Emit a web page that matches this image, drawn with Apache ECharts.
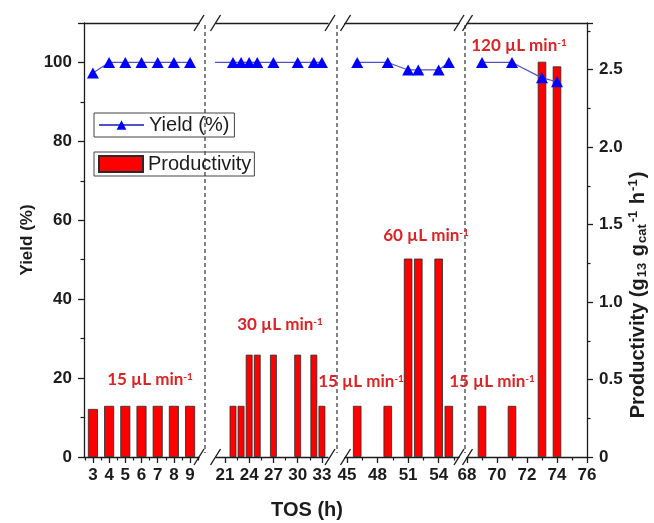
<!DOCTYPE html>
<html>
<head>
<meta charset="utf-8">
<script src="https://cdn.jsdelivr.net/npm/echarts@6/dist/echarts.min.js"></script>
<style>
  html, body { margin: 0; padding: 0; background: #fff; }
  #chart { width: 654px; height: 523px; }
</style>
</head>
<body>
<div id="chart"></div>
<script>
// time on stream (h) of each sample
const tos = [3, 4, 5, 6, 7, 8, 9, 22, 23, 24, 25, 27, 30, 32, 33, 46, 49, 51, 52, 54, 55, 69, 71, 73, 74];
// yield (%)
const yieldPct = [97.3, 100, 100, 100, 100, 100, 100, 100, 100, 100, 100, 100, 100, 100, 100,
  100, 100, 98.1, 98.1, 98.1, 100, 100, 100, 96.1, 95.1];
// productivity (g13 gcat-1 h-1)
const productivity = [0.31, 0.33, 0.33, 0.33, 0.33, 0.33, 0.33, 0.33, 0.33, 0.66, 0.66, 0.66, 0.66, 0.66, 0.33,
  0.33, 0.33, 1.28, 1.28, 1.28, 0.33, 0.33, 0.33, 2.55, 2.52];
// x axis pieces (axis breaks) and their tick labels
const segments = [[2.45, 9.55], [19.9, 33.75], [44.8, 56], [68, 76]];
const tickLabels = [[3, 4, 5, 6, 7, 8, 9], [21, 24, 27, 30, 33], [45, 48, 51, 54], [68, 70, 72, 74, 76]];
const yieldTicks = [0, 20, 40, 60, 80, 100];
const prodTicks = [0, 0.5, 1.0, 1.5, 2.0, 2.5];
// flow rate notes
const rateNotes = ['15 µL min', '30 µL min', '15 µL min', '60 µL min', '15 µL min', '120 µL min'];

const font = 'Liberation Sans';
const ink = '#1c1c1c';
const layout = [
  {left: 84, width: 115, barWidth: 10},
  {left: 216, width: 112, barWidth: 6.8},
  {left: 345, width: 114, barWidth: 8.5},
  {left: 467, width: 120, barWidth: 8.5}
];
const plotTop = 23, plotBottom = 457;

const grids = [], xAxes = [], yAxes = [], series = [];
layout.forEach((g, i) => {
  const [min, max] = segments[i];
  const majors = tickLabels[i];
  const step = majors[1] - majors[0];
  const minors = [];
  for (let v = majors[0] - step / 2; v <= max; v += step) {
    if (v >= min) minors.push(v);
  }
  grids.push({left: g.left, width: g.width, top: plotTop, bottom: 523 - plotBottom});
  xAxes.push({
    type: 'value', gridIndex: i, min: min, max: max, position: 'bottom',
    axisLine: {onZero: false, lineStyle: {color: ink, width: 1.3}},
    axisTick: {customValues: majors, length: 6, lineStyle: {color: ink, width: 1.3}},
    axisLabel: {customValues: majors, margin: 10, color: ink, fontSize: 17, fontWeight: 'bold', fontFamily: font},
    splitLine: {show: false}
  });
  xAxes.push({
    type: 'value', gridIndex: i, min: min, max: max, position: 'bottom',
    axisLine: {show: false},
    axisTick: {customValues: minors, length: 3.5, lineStyle: {color: ink, width: 1.2}},
    axisLabel: {show: false},
    splitLine: {show: false}
  });
  xAxes.push({
    type: 'value', gridIndex: i, min: min, max: max, position: 'top',
    axisLine: {onZero: false, lineStyle: {color: ink, width: 1.3}},
    axisTick: {show: false}, axisLabel: {show: false}, splitLine: {show: false}
  });
  yAxes.push({
    type: 'value', gridIndex: i, min: 0, max: 110, interval: 20, position: 'left',
    show: i === 0,
    name: i === 0 ? 'Yield (%)' : '', nameLocation: 'middle', nameRotate: 90, nameGap: 48,
    nameTextStyle: {fontSize: 17, fontWeight: 'bold', color: ink, fontFamily: font},
    axisLine: {show: true, lineStyle: {color: ink, width: 1.3}},
    axisTick: {show: true, length: 6, lineStyle: {color: ink, width: 1.3}},
    minorTick: {show: true, splitNumber: 2, length: 3.5, lineStyle: {color: ink, width: 1.2}},
    axisLabel: {customValues: yieldTicks, margin: 12, color: ink, fontSize: 17, fontWeight: 'bold', fontFamily: font},
    splitLine: {show: false}
  });
  yAxes.push({
    type: 'value', gridIndex: i, min: 0, max: 2.8, interval: 0.5, position: 'right',
    show: i === 3,
    name: i === 3 ? 'Productivity (g{sub|13} g{sub|cat}{sup|-1} h{sup|-1})' : '',
    nameLocation: 'middle', nameRotate: 90, nameGap: 40,
    nameTextStyle: {
      fontSize: 20, fontWeight: 'bold', color: ink, fontFamily: font,
      padding: [0, 110, 0, 0],
      rich: {
        sub: {fontSize: 13, fontWeight: 'bold', color: ink, fontFamily: font, verticalAlign: 'bottom', padding: [9, 1, 0, 1]},
        sup: {fontSize: 13, fontWeight: 'bold', color: ink, fontFamily: font, verticalAlign: 'top', padding: [0, 1, 9, 1]}
      }
    },
    axisLine: {show: true, lineStyle: {color: ink, width: 1.3}},
    axisTick: {show: true, length: 6, lineStyle: {color: ink, width: 1.3}},
    minorTick: {show: true, splitNumber: 2, length: 3.5, lineStyle: {color: ink, width: 1.2}},
    axisLabel: {
      customValues: prodTicks, margin: 12, color: ink, fontSize: 17, fontWeight: 'bold', fontFamily: font,
      formatter: v => (v === 0 ? '0' : v.toFixed(1))
    },
    splitLine: {show: false}
  });

  const inSeg = tos.map((t, k) => k).filter(k => tos[k] >= min && tos[k] <= max);
  series.push({
    type: 'bar', name: 'Productivity', xAxisIndex: 3 * i, yAxisIndex: 2 * i + 1,
    barWidth: g.barWidth, clip: true,
    itemStyle: {color: '#ff0000', borderColor: '#2a2a2a', borderWidth: 0.8},
    data: inSeg.map(k => [tos[k], productivity[k]])
  });
  // the yield trace carries on across the first break
  const lineIdx = i === 1 ? [inSeg[0] - 1].concat(inSeg) : inSeg;
  series.push({
    type: 'line', name: 'Yield (%)', xAxisIndex: 3 * i, yAxisIndex: 2 * i, clip: true, z: 4,
    symbol: 'triangle', symbolSize: [12, 11],
    itemStyle: {color: '#0000ff'},
    lineStyle: {color: '#5252c4', width: 1.2},
    data: lineIdx.map(k => [tos[k], yieldPct[k]])
  });
});

const graphic = [];
// dashed separators at the breaks
[205, 337, 465].forEach(x => {
  graphic.push({type: 'line', shape: {x1: x, y1: plotTop + 2, x2: x, y2: plotBottom - 4},
    style: {stroke: '#333', lineWidth: 1.2, lineDash: [4, 3]}});
});
// break marks
[[199, 215.5], [330, 345.5], [459, 467.5]].forEach(pair => {
  pair.forEach(x => {
    [plotTop, plotBottom].forEach(y => {
      graphic.push({type: 'line', shape: {x1: x - 5, y1: y + 8, x2: x + 5, y2: y - 8},
        style: {stroke: ink, lineWidth: 1.4}});
    });
  });
});
const notePos = [[150, 380], [280, 325], [361, 382], [426, 236], [492, 382], [519, 46]];
rateNotes.forEach((t, k) => {
  graphic.push({
    type: 'text', x: notePos[k][0], y: notePos[k][1], z: 10,
    style: {
      text: t + '{sup|-1}', align: 'center', verticalAlign: 'middle',
      fill: '#dd2323', font: 'bold 17px Lato',
      rich: {sup: {fill: '#dd2323', font: 'bold 10px Lato', verticalAlign: 'top'}}
    }
  });
});
graphic.push({
  type: 'text', x: 307, y: 510,
  style: {text: 'TOS (h)', align: 'center', verticalAlign: 'middle', fill: ink, font: 'bold 20px "Liberation Sans"'}
});

const option = {
  animation: false,
  backgroundColor: '#fff',
  grid: grids,
  xAxis: xAxes,
  yAxis: yAxes,
  legend: [
    {
      data: ['Yield (%)'], left: 94, top: 113, itemWidth: 45, itemHeight: 12,
      padding: [2, 5, 2, 4], borderColor: '#444', borderWidth: 1, selectedMode: false,
      textStyle: {fontSize: 20, color: ink, fontFamily: font}
    },
    {
      data: [{name: 'Productivity', icon: 'rect'}], left: 94, top: 152, itemWidth: 44, itemHeight: 16,
      padding: [2, 3, 2, 4], borderColor: '#444', borderWidth: 1, selectedMode: false,
      textStyle: {fontSize: 20, color: ink, fontFamily: font}
    }
  ],
  graphic: graphic,
  series: series
};

const chart = echarts.init(document.getElementById('chart'));
chart.setOption(option);
</script>
</body>
</html>
